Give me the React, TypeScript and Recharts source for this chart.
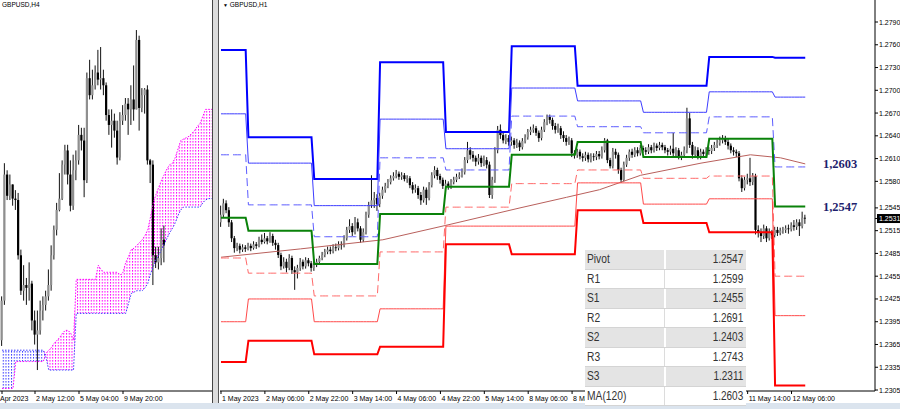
import React from 'react';
import { ComposedChart, Bar, Line, Area, XAxis, YAxis, ReferenceDot } from 'recharts';

// prices are stored in pips (price x 10000)

// GBPUSD H1, 1 May 14:00 .. 12 May 11:00
const h1FirstOpen = 12526;
const h1Close = [
  12536, 12551, 12542, 12526, 12505, 12492, 12495, 12490, 12493, 12491,
  12495, 12492, 12497, 12495, 12503, 12500, 12505, 12501, 12508, 12499,
  12496, 12483, 12468, 12474, 12466, 12479, 12463, 12460, 12466, 12474,
  12468, 12476, 12472, 12466, 12470, 12474, 12479, 12483, 12487, 12490,
  12488, 12493, 12492, 12497, 12496, 12505, 12516, 12521, 12513, 12526,
  12518, 12503, 12513, 12536, 12549, 12555, 12558, 12550, 12561, 12569,
  12574, 12579, 12584, 12587, 12590, 12586, 12588, 12583, 12584, 12575,
  12569, 12571, 12562, 12555, 12569, 12558, 12575, 12588, 12595, 12587,
  12582, 12574, 12577, 12573, 12579, 12582, 12586, 12588, 12592, 12608,
  12621, 12615, 12611, 12606, 12611, 12604, 12608, 12602, 12562, 12582,
  12621, 12648, 12641, 12634, 12637, 12632, 12634, 12628, 12631, 12625,
  12633, 12638, 12645, 12648, 12650, 12644, 12637, 12648, 12658, 12665,
  12661, 12653, 12648, 12650, 12641, 12637, 12632, 12634, 12617, 12615,
  12619, 12613, 12611, 12615, 12609, 12613, 12612, 12616, 12613, 12621,
  12634, 12608, 12600, 12619, 12615, 12595, 12582, 12602, 12611, 12619,
  12615, 12621, 12617, 12624, 12621, 12619, 12625, 12621, 12627, 12624,
  12628, 12625, 12621, 12619, 12623, 12617, 12621, 12613, 12615, 12621,
  12663, 12628, 12615, 12621, 12613, 12619, 12616, 12621, 12620, 12624,
  12628, 12631, 12634, 12637, 12632, 12627, 12621, 12619, 12617, 12584,
  12571, 12582, 12584, 12579, 12587, 12516, 12513, 12508, 12518, 12505,
  12513, 12509, 12516, 12512, 12515, 12516, 12518, 12517, 12522, 12520,
  12526, 12521, 12532, 12531,
];
const h1High = [
  12548, 12557, 12555, 12546, 12529, 12508, 12499, 12498, 12497, 12496,
  12499, 12498, 12501, 12500, 12507, 12510, 12512, 12508, 12513, 12511,
  12503, 12499, 12486, 12480, 12478, 12484, 12482, 12468, 12470, 12479,
  12477, 12480, 12479, 12475, 12474, 12478, 12482, 12487, 12491, 12494,
  12494, 12497, 12498, 12501, 12501, 12509, 12520, 12530, 12525, 12533,
  12531, 12521, 12518, 12540, 12553, 12588, 12566, 12563, 12565, 12573,
  12578, 12583, 12588, 12592, 12595, 12593, 12592, 12591, 12588, 12587,
  12579, 12576, 12574, 12566, 12573, 12572, 12579, 12592, 12600, 12598,
  12590, 12585, 12582, 12580, 12583, 12586, 12590, 12592, 12597, 12612,
  12632, 12625, 12620, 12614, 12616, 12614, 12614, 12612, 12606, 12586,
  12625, 12653, 12655, 12646, 12642, 12641, 12639, 12637, 12636, 12634,
  12637, 12642, 12649, 12652, 12655, 12653, 12647, 12652, 12662, 12668,
  12668, 12664, 12657, 12656, 12653, 12646, 12641, 12639, 12637, 12621,
  12623, 12622, 12617, 12619, 12618, 12617, 12617, 12620, 12620, 12626,
  12637, 12636, 12611, 12624, 12623, 12618, 12598, 12606, 12615, 12622,
  12623, 12625, 12625, 12628, 12627, 12625, 12629, 12628, 12631, 12630,
  12632, 12631, 12628, 12624, 12627, 12644, 12625, 12624, 12619, 12626,
  12677, 12670, 12632, 12626, 12625, 12623, 12622, 12625, 12625, 12628,
  12632, 12635, 12639, 12641, 12640, 12636, 12630, 12625, 12622, 12620,
  12588, 12586, 12590, 12611, 12591, 12590, 12522, 12518, 12523, 12521,
  12518, 12516, 12520, 12520, 12519, 12520, 12522, 12523, 12526, 12529,
  12530, 12530, 12540, 12536,
];
const h1Low = [
  12520, 12532, 12538, 12520, 12500, 12486, 12488, 12485, 12487, 12487,
  12489, 12488, 12490, 12491, 12493, 12497, 12498, 12497, 12499, 12495,
  12490, 12479, 12463, 12465, 12460, 12463, 12458, 12437, 12452, 12462,
  12464, 12465, 12468, 12461, 12462, 12467, 12471, 12476, 12480, 12484,
  12484, 12485, 12488, 12489, 12490, 12493, 12502, 12512, 12508, 12510,
  12514, 12499, 12500, 12510, 12532, 12545, 12545, 12541, 12546, 12557,
  12565, 12571, 12576, 12581, 12584, 12582, 12582, 12580, 12578, 12571,
  12564, 12565, 12557, 12549, 12552, 12549, 12555, 12572, 12584, 12582,
  12577, 12570, 12570, 12569, 12570, 12576, 12579, 12583, 12585, 12589,
  12604, 12609, 12606, 12600, 12602, 12599, 12600, 12597, 12558, 12557,
  12578, 12617, 12636, 12630, 12629, 12627, 12627, 12623, 12624, 12620,
  12622, 12630, 12635, 12641, 12644, 12640, 12632, 12634, 12645, 12654,
  12656, 12648, 12643, 12644, 12636, 12632, 12627, 12628, 12612, 12610,
  12611, 12609, 12606, 12607, 12605, 12605, 12607, 12608, 12609, 12610,
  12618, 12604, 12597, 12597, 12610, 12590, 12578, 12580, 12599, 12607,
  12611, 12612, 12613, 12614, 12617, 12615, 12616, 12617, 12618, 12620,
  12621, 12621, 12617, 12614, 12615, 12613, 12613, 12609, 12608, 12611,
  12617, 12624, 12610, 12611, 12609, 12609, 12611, 12612, 12615, 12616,
  12620, 12624, 12627, 12630, 12628, 12622, 12617, 12614, 12612, 12580,
  12566, 12568, 12576, 12574, 12575, 12510, 12506, 12500, 12504, 12500,
  12502, 12504, 12506, 12508, 12509, 12511, 12512, 12511, 12514, 12515,
  12516, 12508, 12518, 12524,
];

// daily pivot levels, 1 May .. 12 May (first H1 bar of each day)
const dayStart = [0, 10, 34, 58, 82, 106, 130, 154, 178, 202];
const levelR3 = [12753, 12638, 12583, 12737, 12645, 12758, 12706, 12706, 12744, 12743];
const levelR2 = [12669, 12604, 12548, 12662, 12623, 12703, 12686, 12671, 12698, 12691];
const levelR1 = [12615, 12549, 12507, 12611, 12595, 12666, 12652, 12644, 12665, 12599];
const levelP = [12532, 12515, 12471, 12537, 12573, 12615, 12632, 12612, 12636, 12547];
const levelS1 = [12479, 12459, 12429, 12487, 12546, 12577, 12595, 12584, 12587, 12455];
const levelS2 = [12395, 12425, 12395, 12412, 12521, 12521, 12578, 12550, 12557, 12403];
const levelS3 = [12342, 12370, 12352, 12362, 12497, 12484, 12542, 12525, 12513, 12311];

// MA(120) read at a few bars
const maBar = [0, 29, 59, 82, 109, 126, 138, 153, 175, 193, 204, 213];
const maValue = [12480, 12491, 12503, 12522, 12545, 12559, 12569, 12588, 12604, 12615, 12611, 12603];

// time labels that are not hidden under the table
const h1TickBars = [0, 16, 32, 48, 64, 80, 96, 112, 128, 192, 208];
const h1TickLabels = [
  '1 May 2023', '2 May 06:00', '2 May 22:00', '3 May 14:00', '4 May 06:00', '4 May 22:00', '5 May 14:00',
  '8 May 06:00', '8 May 22:00', '11 May 14:00', '12 May 06:00',
];
const priceTicks = [12790, 12760, 12730, 12700, 12670, 12640, 12610, 12580, 12545, 12531, 12515, 12485, 12455, 12425, 12395, 12365, 12335, 12305];
const lastPrice = 12531;

const tableNames = ['Pivot', 'R1', 'S1', 'R2', 'S2', 'R3', 'S3', 'MA(120)'];
const tableValues = [12547, 12599, 12455, 12691, 12403, 12743, 12311, 12603];

// GBPUSD H4, 28 Apr 12:00 .. 12 May 08:00
const h4FirstOpen = 12458;
const h4Close = [
  12486, 12575, 12560, 12568, 12558, 12557, 12518, 12493, 12497, 12495,
  12498, 12472, 12462, 12465, 12479, 12483, 12489, 12497, 12518, 12536,
  12550, 12558, 12582, 12592, 12575, 12553, 12578, 12585, 12603, 12599,
  12571, 12643, 12631, 12638, 12647, 12642, 12643, 12638, 12617, 12610,
  12613, 12606, 12587, 12613, 12617, 12625, 12621, 12628, 12621, 12670,
  12622, 12631, 12635, 12585, 12582, 12518, 12513, 12516, 12529, 12525,
];
const h4High = [
  12489, 12583, 12578, 12575, 12568, 12564, 12562, 12522, 12511, 12502,
  12513, 12500, 12479, 12479, 12486, 12489, 12493, 12508, 12525, 12539,
  12555, 12576, 12585, 12596, 12596, 12585, 12589, 12592, 12610, 12608,
  12608, 12647, 12656, 12649, 12652, 12663, 12665, 12649, 12640, 12621,
  12621, 12618, 12613, 12619, 12624, 12629, 12629, 12638, 12652, 12677,
  12673, 12636, 12636, 12638, 12586, 12585, 12524, 12524, 12537, 12539,
];
const h4Low = [
  12454, 12483, 12557, 12557, 12553, 12550, 12515, 12490, 12486, 12483,
  12486, 12465, 12455, 12437, 12462, 12472, 12479, 12486, 12493, 12515,
  12532, 12549, 12557, 12575, 12568, 12549, 12550, 12571, 12582, 12592,
  12559, 12569, 12628, 12628, 12635, 12638, 12635, 12631, 12613, 12603,
  12594, 12601, 12582, 12585, 12610, 12613, 12603, 12610, 12613, 12621,
  12606, 12619, 12618, 12582, 12569, 12497, 12509, 12508, 12511, 12513,
];
// Ichimoku spans (shifted 26 bars ahead)
const spanA = [
  12451, 12451, 12451, 12451, 12451, 12451, 12451, 12451, 12451, 12451,
  12451, 12451, 12451, 12451, 12451, 12451, 12446, 12437, 12437, 12437,
  12437, 12437, 12437, 12437, 12437, 12437, 12437, 12477, 12477, 12477,
  12477, 12477, 12477, 12477, 12477, 12477, 12477, 12477, 12477, 12477,
  12477, 12477, 12477, 12477, 12477, 12477, 12484, 12491, 12492, 12493,
  12493, 12493, 12495, 12498, 12505, 12510, 12515, 12518, 12522, 12526,
  12530, 12534, 12537, 12541, 12546, 12550, 12552, 12552, 12552, 12552,
  12552, 12552, 12552, 12555, 12557, 12558, 12558, 12558,
];
const spanB = [
  12424, 12424, 12424, 12424, 12424, 12443, 12443, 12443, 12443, 12443,
  12443, 12443, 12443, 12443, 12443, 12443, 12449, 12451, 12453, 12456,
  12458, 12460, 12463, 12465, 12465, 12463, 12458, 12501, 12501, 12501,
  12501, 12501, 12501, 12501, 12501, 12511, 12508, 12506, 12506, 12506,
  12506, 12506, 12506, 12504, 12506, 12513, 12517, 12522, 12523, 12525,
  12527, 12529, 12532, 12536, 12545, 12555, 12561, 12566, 12571, 12575,
  12579, 12582, 12583, 12587, 12593, 12599, 12600, 12601, 12602, 12604,
  12606, 12609, 12611, 12616, 12621, 12621, 12621, 12621,
];
const h4TickBars = [0, 12, 28, 44];
const h4TickLabels = ['Apr 2023', '2 May 12:00', '5 May 04:00', '9 May 20:00'];

const dayOf = (i: number) => {
  let d = 0;
  dayStart.forEach((s, k) => { if (i >= s) d = k; });
  return d;
};

const h1Data = h1Close.map((c, i) => {
  const d = dayOf(i);
  const m = maBar.indexOf(i);
  return {
    i, c, h: h1High[i], l: h1Low[i],
    o: i === 0 ? h1FirstOpen : h1Close[i - 1],
    r3: levelR3[d], r2: levelR2[d], r1: levelR1[d], p: levelP[d],
    s1: levelS1[d], s2: levelS2[d], s3: levelS3[d],
    ma: m >= 0 ? maValue[m] : null,
  };
});

const h4Data = spanA.map((a, j) => {
  const b = spanB[j];
  const has = j < h4Close.length;
  return {
    j, a, b,
    c: has ? h4Close[j] : null,
    h: has ? h4High[j] : null,
    l: has ? h4Low[j] : null,
    o: has ? (j === 0 ? h4FirstOpen : h4Close[j - 1]) : null,
    // span B above span A -> magenta cloud, otherwise blue (zero thickness when not active)
    up: [a, Math.max(a, b)],
    dn: [Math.min(a, b), a],
  };
});

const fmt = (v: number) => (v / 10000).toFixed(4);
const FONT = '"Liberation Sans", Arial, sans-serif';

const Candle = (props: any) => {
  const { x, y, width, height, payload } = props;
  if (!payload || payload.h == null || x == null) return <g />;
  const { o, h, l, c } = payload;
  const top = Math.min(y, y + height);
  const hh = Math.abs(height);
  const cx = x + width / 2;
  const span = h - l || 1;
  const py = (v: number) => top + ((h - v) / span) * hh;
  const bt = py(Math.max(o, c));
  const bb = py(Math.min(o, c));
  const up = c >= o;
  return (
    <g>
      <line x1={cx} x2={cx} y1={top} y2={top + hh} stroke="#111" strokeWidth={1} />
      <rect x={cx - 1.1} y={bt} width={2.2} height={Math.max(bb - bt, 0.8)} fill={up ? '#8f8f8f' : '#000'} />
    </g>
  );
};

const H1Tick = (props: any) => {
  const { x, y, payload } = props;
  const k = h1TickBars.indexOf(payload.value);
  return <text x={x + 1} y={y} dy={5.5} fontSize={7} fontFamily={FONT} fill="#000">{h1TickLabels[k]}</text>;
};

const H4Tick = (props: any) => {
  const { x, y, payload } = props;
  const k = h4TickBars.indexOf(payload.value);
  return <text x={k === 0 ? x - 2 : x + 1} y={y} dy={5.5} fontSize={7} fontFamily={FONT} fill="#000">{h4TickLabels[k]}</text>;
};

const PriceTick = (props: any) => {
  const { x, y, payload } = props;
  const v = payload.value;
  if (v === lastPrice) {
    return (
      <g>
        <rect x={x - 2} y={y - 4.5} width={23} height={9} fill="#000" />
        <text x={x} y={y} dy={2.5} fontSize={7} fontFamily={FONT} fill="#fff">{fmt(v)}</text>
      </g>
    );
  }
  return <text x={x} y={y} dy={2.5} fontSize={7} fontFamily={FONT} fill="#000">{fmt(v)}</text>;
};

const levelLabel = (v: number) => (p: any) => {
  const vb = p.viewBox || {};
  return (
    <text x={vb.x + (vb.width || 0) / 2} y={vb.y + (vb.height || 0) / 2} dy={4.5} textAnchor="middle"
      fontFamily='"Liberation Serif", "Times New Roman", serif' fontWeight="bold" fontSize={12.5} fill="#1f1f6e">
      {fmt(v).replace('.', ',')}
    </text>
  );
};

export default function App() {
  return (
    <div style={{ position: 'absolute', left: 0, top: 0, width: 900, height: 409, background: '#fff', overflow: 'hidden', fontFamily: FONT }}>
      <div style={{ position: 'absolute', left: 0, top: 403, width: 900, height: 6, background: '#dbe4ee' }} />

      {/* H4 panel */}
      <div style={{ position: 'absolute', left: 0, top: 0 }}>
        <ComposedChart width={212} height={403} data={h4Data} margin={{ top: 0, right: 0, bottom: 0, left: 0 }}>
          <defs>
            <pattern id="dotsPink" x="0" y="0" width="2.75" height="3" patternUnits="userSpaceOnUse">
              <rect x="0" y="0" width="1" height="1.6" fill="#ff00ff" />
            </pattern>
            <pattern id="dotsBlue" x="0" y="0" width="2.75" height="3" patternUnits="userSpaceOnUse">
              <rect x="0" y="0" width="1" height="1.6" fill="#3b3bff" />
            </pattern>
          </defs>
          <XAxis dataKey="j" type="number" domain={[-0.73, 76.36]} allowDataOverflow ticks={h4TickBars} interval={0}
            height={12} tickSize={3} tickMargin={1} axisLine={{ stroke: '#000' }} tickLine={{ stroke: '#000' }} tick={<H4Tick />} />
          <YAxis hide type="number" domain={[12422.2, 12698.2]} allowDataOverflow />
          <Area dataKey="up" type="linear" fill="url(#dotsPink)" fillOpacity={1} stroke="none" dot={false} activeDot={false} isAnimationActive={false} />
          <Area dataKey="dn" type="linear" fill="url(#dotsBlue)" fillOpacity={1} stroke="none" dot={false} activeDot={false} isAnimationActive={false} />
          <Line dataKey="b" type="linear" stroke="#ff00ff" strokeWidth={1} strokeDasharray="1.5 1.5" dot={false} activeDot={false} isAnimationActive={false} />
          <Line dataKey="a" type="linear" stroke="#3b3bff" strokeWidth={1} strokeDasharray="1.5 1.5" dot={false} activeDot={false} isAnimationActive={false} />
          <Bar dataKey={(d: any) => (d.h == null ? null : [d.l, d.h])} barSize={2} shape={<Candle />} isAnimationActive={false} />
        </ComposedChart>
      </div>
      <div style={{ position: 'absolute', left: 2, top: 1, fontSize: 6.5, color: '#000' }}>GBPUSD,H4</div>

      {/* separator */}
      <div style={{ position: 'absolute', left: 212, top: 0, width: 1, height: 403, background: '#444' }} />
      <div style={{ position: 'absolute', left: 213, top: 0, width: 5, height: 403, background: '#dcdcdc' }} />
      <div style={{ position: 'absolute', left: 218, top: 0, width: 1, height: 403, background: '#555' }} />

      {/* H1 panel */}
      <div style={{ position: 'absolute', left: 219, top: 0 }}>
        <ComposedChart width={681} height={403} data={h1Data} margin={{ top: 0, right: 0, bottom: 0, left: 1 }}>
          <XAxis dataKey="i" type="number" domain={[-0.36, 238.43]} allowDataOverflow ticks={h1TickBars} interval={0}
            height={12} tickSize={3} tickMargin={1} axisLine={{ stroke: '#000' }} tickLine={{ stroke: '#000' }} tick={<H1Tick />} />
          <YAxis orientation="right" width={25} type="number" domain={[12303.7, 12819]} allowDataOverflow ticks={priceTicks} interval={0}
            tickSize={3} tickMargin={1} axisLine={{ stroke: '#000' }} tickLine={{ stroke: '#000' }} tick={<PriceTick />} />
          <Line dataKey="ma" stroke="#b9605c" strokeWidth={1} dot={false} connectNulls isAnimationActive={false} />
          <Line dataKey="r3" stroke="#0000ff" strokeWidth={2} dot={false} isAnimationActive={false} />
          <Line dataKey="r2" stroke="#3d3dff" strokeWidth={1} dot={false} isAnimationActive={false} />
          <Line dataKey="r1" stroke="#5c5cff" strokeWidth={1} strokeDasharray="8 4" dot={false} isAnimationActive={false} />
          <Line dataKey="p" stroke="#0a820a" strokeWidth={2} dot={false} isAnimationActive={false} />
          <Line dataKey="s1" stroke="#ff6a6a" strokeWidth={1} strokeDasharray="8 4" dot={false} isAnimationActive={false} />
          <Line dataKey="s2" stroke="#ff4a4a" strokeWidth={1} dot={false} isAnimationActive={false} />
          <Line dataKey="s3" stroke="#ff0000" strokeWidth={2} dot={false} isAnimationActive={false} />
          <Bar dataKey={(d: any) => [d.l, d.h]} barSize={2} shape={<Candle />} isAnimationActive={false} />
          <ReferenceDot x={225.7} y={maValue[maValue.length - 1]} r={1} fill="none" stroke="none" ifOverflow="visible"
            label={levelLabel(maValue[maValue.length - 1])} />
          <ReferenceDot x={225.7} y={levelP[levelP.length - 1]} r={1} fill="none" stroke="none" ifOverflow="visible"
            label={levelLabel(levelP[levelP.length - 1])} />
        </ComposedChart>
      </div>
      <div style={{ position: 'absolute', left: 223, top: 1, fontSize: 6.5, color: '#000', whiteSpace: 'nowrap' }}>
        <span style={{ fontSize: 5 }}>▼</span> GBPUSD,H1
      </div>

      {/* pivot table */}
      <div style={{ position: 'absolute', left: 585, top: 250, width: 161, color: '#333', fontSize: 12.5 }}>
        {tableNames.map((n, k) => (
          <div key={n} style={{ height: 19.5, lineHeight: '19px', display: 'flex', background: k % 2 === 0 ? '#e4e4e4' : '#fff', boxSizing: 'border-box', borderBottom: '1px solid #d4d4d4' }}>
            <div style={{ width: 77, paddingLeft: 2, overflow: 'visible', whiteSpace: 'nowrap' }}>
              <span style={{ display: 'inline-block', transform: 'scaleX(0.82)', transformOrigin: 'left center' }}>{n}</span>
            </div>
            <div style={{ flex: 1, textAlign: 'right', paddingRight: 3, borderLeft: k % 2 === 0 ? '2px solid #fff' : '1px solid #dcdcdc', whiteSpace: 'nowrap' }}>
              <span style={{ display: 'inline-block', transform: 'scaleX(0.8)', transformOrigin: 'right center' }}>{fmt(tableValues[k])}</span>
            </div>
          </div>
        ))}
      </div>
    </div>
  );
}
